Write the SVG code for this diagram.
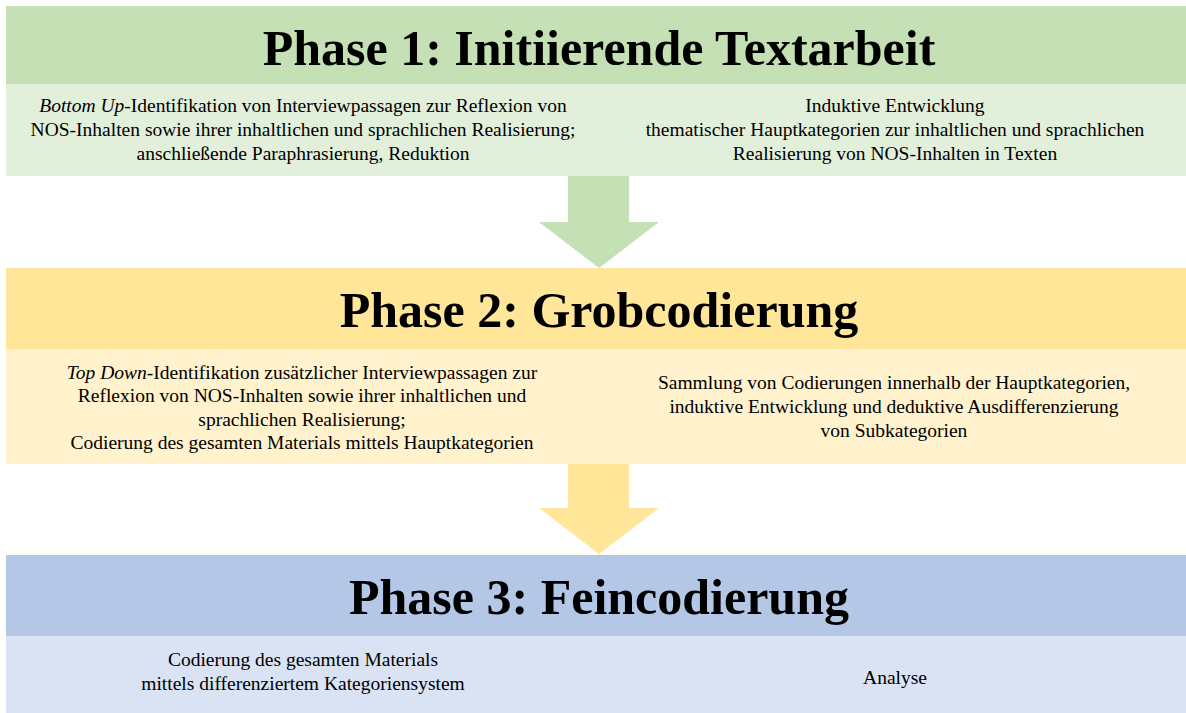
<svg xmlns="http://www.w3.org/2000/svg" width="1186" height="713" viewBox="0 0 1186 713">
<style>
.title{font-family:"Liberation Serif","Times New Roman",serif;font-weight:bold;font-size:50px;fill:#000;text-anchor:middle}
.txt{font-family:"Liberation Serif","Times New Roman",serif;font-size:19.5px;fill:#000;text-anchor:middle}
.it{font-style:italic}
</style>
<rect width="1186" height="713" fill="#ffffff"/>
<g id="connectors">
<polygon points="568,176 629,176 629,222 659,222 599,268 539,222 568,222" fill="#C5E0B4"/>
<polygon points="568,464 629,464 629,508 659,508 599,554 539,508 568,508" fill="#FFE699"/>
</g>
<g id="phase1">
<rect x="6" y="6" width="1180" height="78" fill="#C5E0B4"/>
<rect x="6" y="84" width="1180" height="92" fill="#E2EFDA"/>
<text class="title" x="599" y="65">Phase 1: Initiierende Textarbeit</text>
<text class="txt" x="303" y="112"><tspan class="it">Bottom Up</tspan>-Identifikation von Interviewpassagen zur Reflexion von</text>
<text class="txt" x="303" y="136">NOS-Inhalten sowie ihrer inhaltlichen und sprachlichen Realisierung;</text>
<text class="txt" x="303" y="160">anschließende Paraphrasierung, Reduktion</text>
<text class="txt" x="895" y="112">Induktive Entwicklung</text>
<text class="txt" x="895" y="136">thematischer Hauptkategorien zur inhaltlichen und sprachlichen</text>
<text class="txt" x="895" y="160">Realisierung von NOS-Inhalten in Texten</text>
</g>
<g id="phase2">
<rect x="6" y="268" width="1180" height="81" fill="#FFE699"/>
<rect x="6" y="349" width="1180" height="115" fill="#FFF2CC"/>
<text class="title" x="599" y="327">Phase 2: Grobcodierung</text>
<text class="txt" x="302" y="379"><tspan class="it">Top Down</tspan>-Identifikation zusätzlicher Interviewpassagen zur</text>
<text class="txt" x="302" y="402">Reflexion von NOS-Inhalten sowie ihrer inhaltlichen und</text>
<text class="txt" x="302" y="426">sprachlichen Realisierung;</text>
<text class="txt" x="302" y="449">Codierung des gesamten Materials mittels Hauptkategorien</text>
<text class="txt" x="894" y="389">Sammlung von Codierungen innerhalb der Hauptkategorien,</text>
<text class="txt" x="894" y="413">induktive Entwicklung und deduktive Ausdifferenzierung</text>
<text class="txt" x="894" y="437">von Subkategorien</text>
</g>
<g id="phase3">
<rect x="6" y="555" width="1180" height="81" fill="#B4C7E7"/>
<rect x="6" y="636" width="1180" height="77" fill="#DAE3F3"/>
<text class="title" x="599" y="614">Phase 3: Feincodierung</text>
<text class="txt" x="303" y="666">Codierung des gesamten Materials</text>
<text class="txt" x="303" y="690">mittels differenziertem Kategoriensystem</text>
<text class="txt" x="895" y="684">Analyse</text>
</g>
</svg>
